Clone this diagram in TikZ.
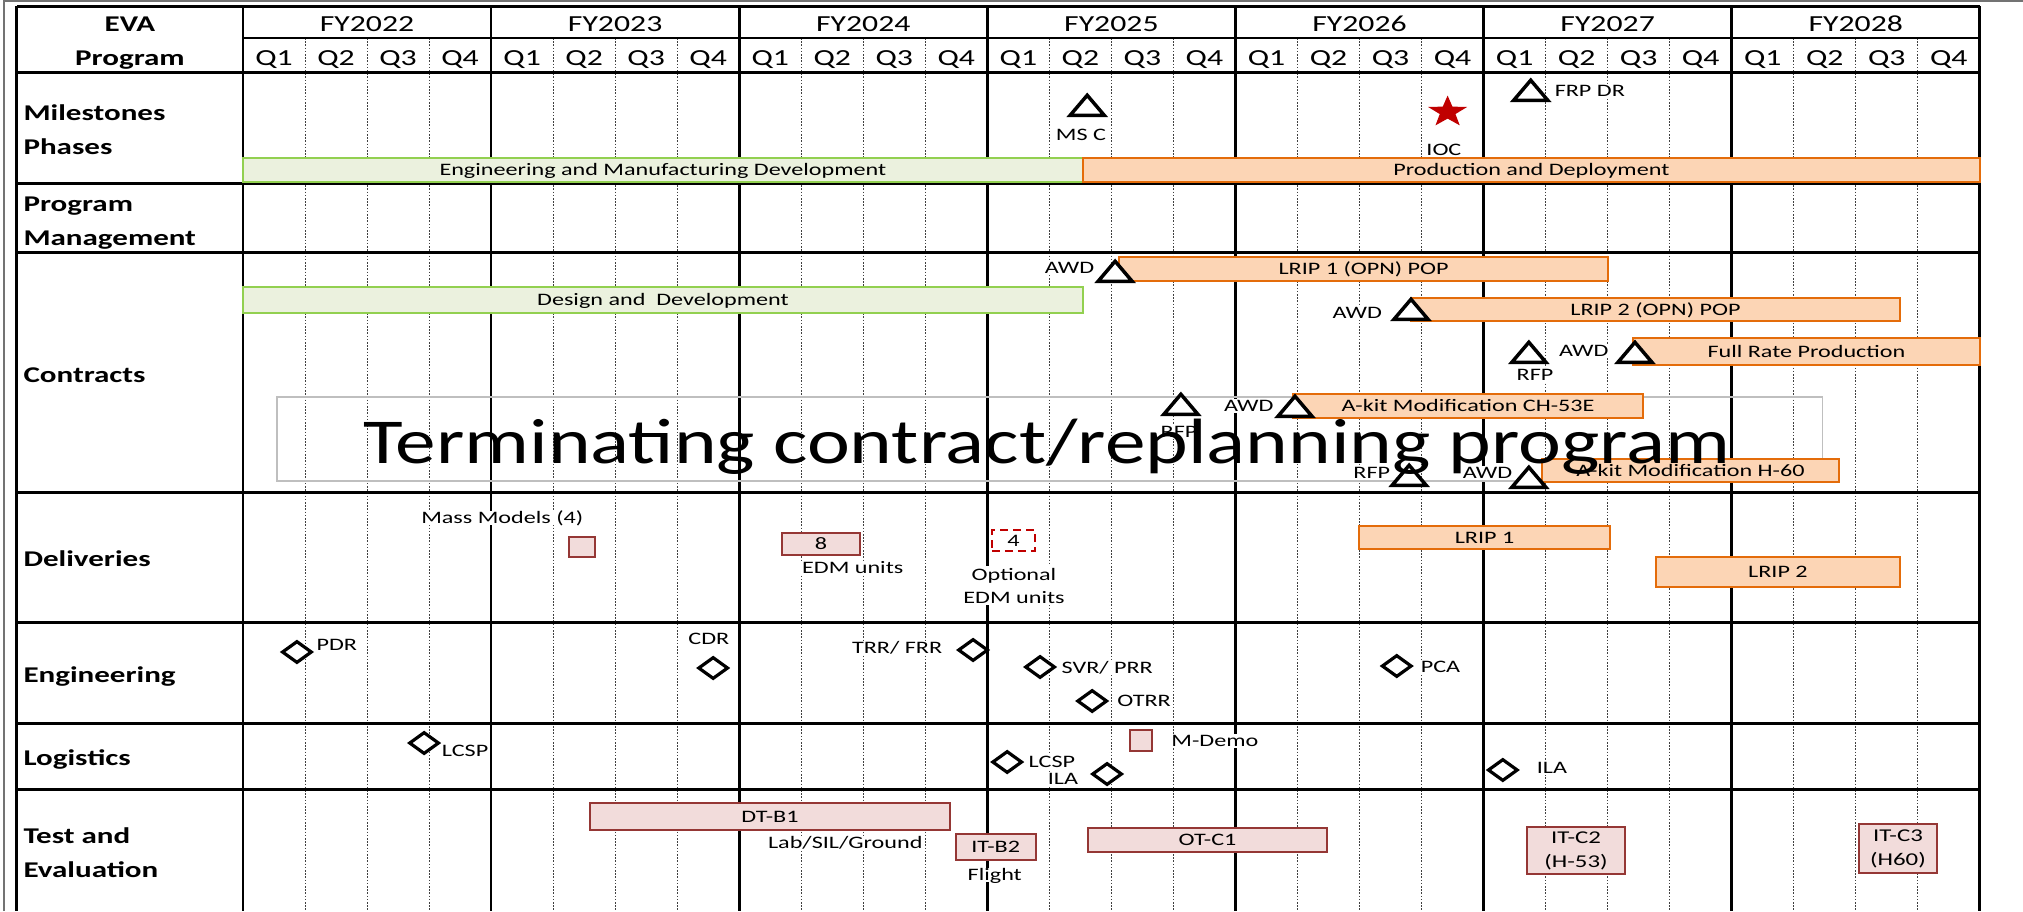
\documentclass[tikz,border=0pt]{standalone}
\usepackage{fontspec}
\setmainfont{Carlito}[FakeStretch=1.38]
\newfontfamily\bannerfont{Carlito}[FakeStretch=1.27]
\usepackage{xcolor}
\definecolor{phasegreen}{RGB}{146,208,80}
\definecolor{phasefill}{RGB}{235,241,222}
\definecolor{prodorange}{RGB}{228,108,10}
\definecolor{prodfill}{RGB}{252,213,181}
\definecolor{testred}{RGB}{149,55,53}
\definecolor{testfill}{RGB}{242,220,219}
\definecolor{iocred}{RGB}{192,0,0}
\usetikzlibrary{shapes.geometric}

\begin{document}
\begin{tikzpicture}[
  x=62.03pt, y=-1pt,
  hdr/.style={font=\fontsize{23}{26}\selectfont, anchor=base},
  rowlab/.style={font=\fontsize{22.5}{33.5}\selectfont\bfseries, anchor=base west, align=left},
  lab/.style={font=\fontsize{17.5}{23}\selectfont, fill=white, inner sep=1.5pt,
              text height=11pt, text depth=0pt},
  bartext/.style={font=\fontsize{17.5}{21}\selectfont, inner sep=0pt,
                  text height=11.5pt, text depth=0pt},
  bartwo/.style={font=\fontsize{18}{24}\selectfont, inner sep=0pt, align=center},
  gbar/.style={draw=phasegreen, fill=phasefill, line width=2.2pt},
  obar/.style={draw=prodorange, fill=prodfill, line width=2.2pt},
  tbar/.style={draw=testred, fill=testfill, line width=2.2pt},
  tbox/.style={tbar, rectangle, inner sep=0pt},
  optbox/.style={draw=iocred, fill=white, dash pattern=on 8pt off 5pt, line width=2.2pt,
                 minimum width=43pt, minimum height=21pt, inner sep=0pt,
                 font=\fontsize{17.5}{21}\selectfont},
  mtri/.style={isosceles triangle, isosceles triangle stretches, shape border rotate=90,
               minimum width=34pt, minimum height=20pt, inner sep=0pt, anchor=south,
               draw, line width=3.5pt, fill=white},
  mdia/.style={diamond, aspect=1.35, minimum width=30pt, minimum height=22pt, inner sep=0pt,
               draw, line width=3.2pt, fill=white},
  iocstar/.style={star, star points=5, star point ratio=2.5, minimum size=33pt,
                  inner sep=0pt, fill=iocred},
  qline/.style={line width=0.7pt, dash pattern=on 1.6pt off 1.6pt, black!75},
  yearline/.style={line width=2.8pt},
  rowline/.style={line width=3pt}
]
  \useasboundingbox (-3.917,0) rectangle (28.696,911);
  \fill[white] (-3.917,0) rectangle (28.696,911);
  \draw[black!55, line width=2pt] (-3.853,911) -- (-3.853,1) -- (28.696,1);

  % Grid
  \foreach \yr in {0,...,6}
    \foreach \q in {1,2,3}
      \draw[qline] (4*\yr+\q,38) -- (4*\yr+\q,911);
  \foreach \yr in {0,...,7}
    \draw[yearline] (4*\yr,6) -- (4*\yr,911);
  \draw[line width=1.8pt] (0,38) -- (28,38);
  \foreach \r in {6,72,183,252,492,622,723,789}
    \draw[rowline] (-3.643,\r) -- (28,\r);
  \draw[rowline] (-3.643,6) -- (-3.643,911);

  % Header
  \node[hdr, font=\fontsize{22.5}{26}\selectfont\bfseries] (eva) at (-1.822,31) {EVA};
  \node[hdr, font=\fontsize{22.5}{26}\selectfont\bfseries] (evaprog) at (-1.822,65) {Program};
  \foreach \fy [count=\i from 0] in {2022,...,2028} {
    \node[hdr] (fy\fy) at (4*\i+2,31) {FY\fy};
    \foreach \q in {1,...,4}
      \node[hdr] (q\fy-\q) at (4*\i+\q-0.5,65) {Q\q};
  }

  % Row labels (base = last line)
  \node[rowlab] (rmile) at (-3.595,154) {Milestones\\Phases};
  \node[rowlab] (rpm)   at (-3.595,245) {Program\\Management};
  \node[rowlab] (rcon)  at (-3.595,382) {Contracts};
  \node[rowlab] (rdel)  at (-3.595,566) {Deliveries};
  \node[rowlab] (reng)  at (-3.595,682) {Engineering};
  \node[rowlab] (rlog)  at (-3.595,765) {Logistics};
  \node[rowlab] (rte)   at (-3.595,877) {Test and\\Evaluation};

  % Milestones / phases
  \draw[gbar] (0,158) rectangle node[bartext] (emd) {Engineering and Manufacturing Development} (13.54,182);
  \draw[obar] (13.54,158) rectangle node[bartext] (pd) {Production and Deployment} (28,182);
  \node[mtri] (msc) at (13.61,117) {};
  \node[lab] (msclab) at (13.51,135) {MS C};
  \begin{scope}[shift={(19.42,112)}, xscale=1.25]
    \node[iocstar, transform shape] (ioc) at (0,0) {};
  \end{scope}
  \node[lab] (ioclab) at (19.36,150) {IOC};
  \node[mtri] (frpdr) at (20.76,102) {};
  \node[lab, anchor=west] (frpdrlab) at (21.12,91) {FRP DR};

  % Contracts
  \draw[black!25, line width=1.5pt] (0.548,397) rectangle (25.46,481);
  \draw[obar] (14.12,257) rectangle node[bartext] (lrip1pop) {LRIP 1 (OPN) POP} (22.01,281);
  \draw[gbar] (0,287) rectangle node[bartext] (dd) {Design and\ \ Development} (13.54,313);
  \draw[obar] (18.83,298) rectangle node[bartext] (lrip2pop) {LRIP 2 (OPN) POP} (26.71,321);
  \draw[obar] (22.41,338) rectangle node[bartext] (frp) {Full Rate Production} (28,365);
  \draw[obar] (16.93,394) rectangle node[bartext] (akit53) {A-kit Modification CH-53E} (22.57,418);
  \draw[obar] (20.94,459) rectangle node[bartext] (akit60) {A-kit Modification H-60} (25.73,482);
  \node[mtri] (awd1) at (14.06,283) {};
  \node[lab, anchor=east] (awd1lab) at (13.75,268) {AWD};
  \node[mtri] (awd2) at (18.83,321) {};
  \node[lab, anchor=east] (awd2lab) at (18.39,313) {AWD};
  \node[mtri] (rfp3) at (20.73,364) {};
  \node[lab] (rfp3lab) at (20.83,375) {RFP};
  \node[mtri] (awd3) at (22.44,364) {};
  \node[lab, anchor=east] (awd3lab) at (22.04,351) {AWD};
  \node[mtri] (rfp4) at (15.12,416) {};
  \node[lab] (rfp4lab) at (15.09,432) {RFP};
  \node[mtri] (awd4) at (16.96,418) {};
  \node[lab, anchor=east] (awd4lab) at (16.64,406) {AWD};
  \node[mtri] (rfp5) at (18.80,487) {};
  \node[lab, anchor=east] (rfp5lab) at (18.52,473) {RFP};
  \node[mtri] (awd5) at (20.73,489) {};
  \node[lab, anchor=east] (awd5lab) at (20.49,473) {AWD};

  % Deliveries
  \node[lab] (massmodlab) at (4.18,518) {Mass Models (4)};
  \node[tbox, minimum width=26pt, minimum height=20pt] (massmod) at (5.465,547) {};
  \draw[tbar] (8.69,533) rectangle node[bartext] (edm8) {8} (9.95,555);
  \node[lab] (edm8lab) at (9.83,568) {EDM units};
  \node[optbox] (edm4) at (12.42,540.5) {4};
  \node[lab, align=center, text height=, text depth=] (edm4lab) at (12.43,585.5) {Optional\\EDM units};
  \draw[obar] (17.99,526) rectangle node[bartext] (lrip1) {LRIP 1} (22.04,549);
  \draw[obar] (22.78,557) rectangle node[bartext] (lrip2) {LRIP 2} (26.71,587);

  % Engineering
  \node[mdia] (pdr) at (0.87,652) {};
  \node[lab, anchor=west] (pdrlab) at (1.16,645) {PDR};
  \node[mdia] (cdr) at (7.58,668) {};
  \node[lab] (cdrlab) at (7.51,639) {CDR};
  \node[mdia] (trr) at (11.77,650) {};
  \node[lab, anchor=east] (trrlab) at (11.30,648) {TRR/ FRR};
  \node[mdia] (svr) at (12.85,667) {};
  \node[lab, anchor=west] (svrlab) at (13.17,668) {SVR/ PRR};
  \node[mdia] (otrr) at (13.69,701) {};
  \node[lab, anchor=west] (otrrlab) at (14.07,701) {OTRR};
  \node[mdia] (pca) at (18.60,666) {};
  \node[lab, anchor=west] (pcalab) at (18.96,667) {PCA};

  % Logistics
  \node[mdia] (lcsp1) at (2.92,743) {};
  \node[lab, anchor=west] (lcsp1lab) at (3.18,751) {LCSP};
  \node[tbox, minimum width=22pt, minimum height=21pt] (mdemo) at (14.48,740.5) {};
  \node[lab, anchor=west] (mdemolab) at (14.94,741) {M-Demo};
  \node[mdia] (lcsp2) at (12.32,762) {};
  \node[lab, anchor=west] (lcsp2lab) at (12.64,762) {LCSP};
  \node[mdia] (ila1) at (13.93,774) {};
  \node[lab, anchor=east] (ila1lab) at (13.49,779) {ILA};
  \node[mdia] (ila2) at (20.31,770) {};
  \node[lab, anchor=west] (ila2lab) at (20.83,768) {ILA};

  % Test and evaluation
  \draw[tbar] (5.59,803) rectangle node[bartext] (dtb1) {DT-B1} (11.40,830);
  \node[lab] (dtb1lab) at (9.71,843) {Lab/SIL/Ground};
  \draw[tbar] (11.49,834) rectangle node[bartext] (itb2) {IT-B2} (12.78,860);
  \node[lab] (itb2lab) at (12.12,875) {Flight};
  \draw[tbar] (13.62,828) rectangle node[bartext] (otc1) {OT-C1} (17.48,852);
  \draw[tbar] (20.70,827) rectangle node[bartwo] (itc2) {IT-C2\\(H-53)} (22.28,874);
  \draw[tbar] (26.05,824) rectangle node[bartwo] (itc3) {IT-C3\\(H60)} (27.31,873);

  % Banner
  \node[font=\bannerfont\fontsize{64}{70}\selectfont, anchor=base] (term) at (12.96,463)
    {Terminating contract/replanning program};
\end{tikzpicture}
\end{document}
